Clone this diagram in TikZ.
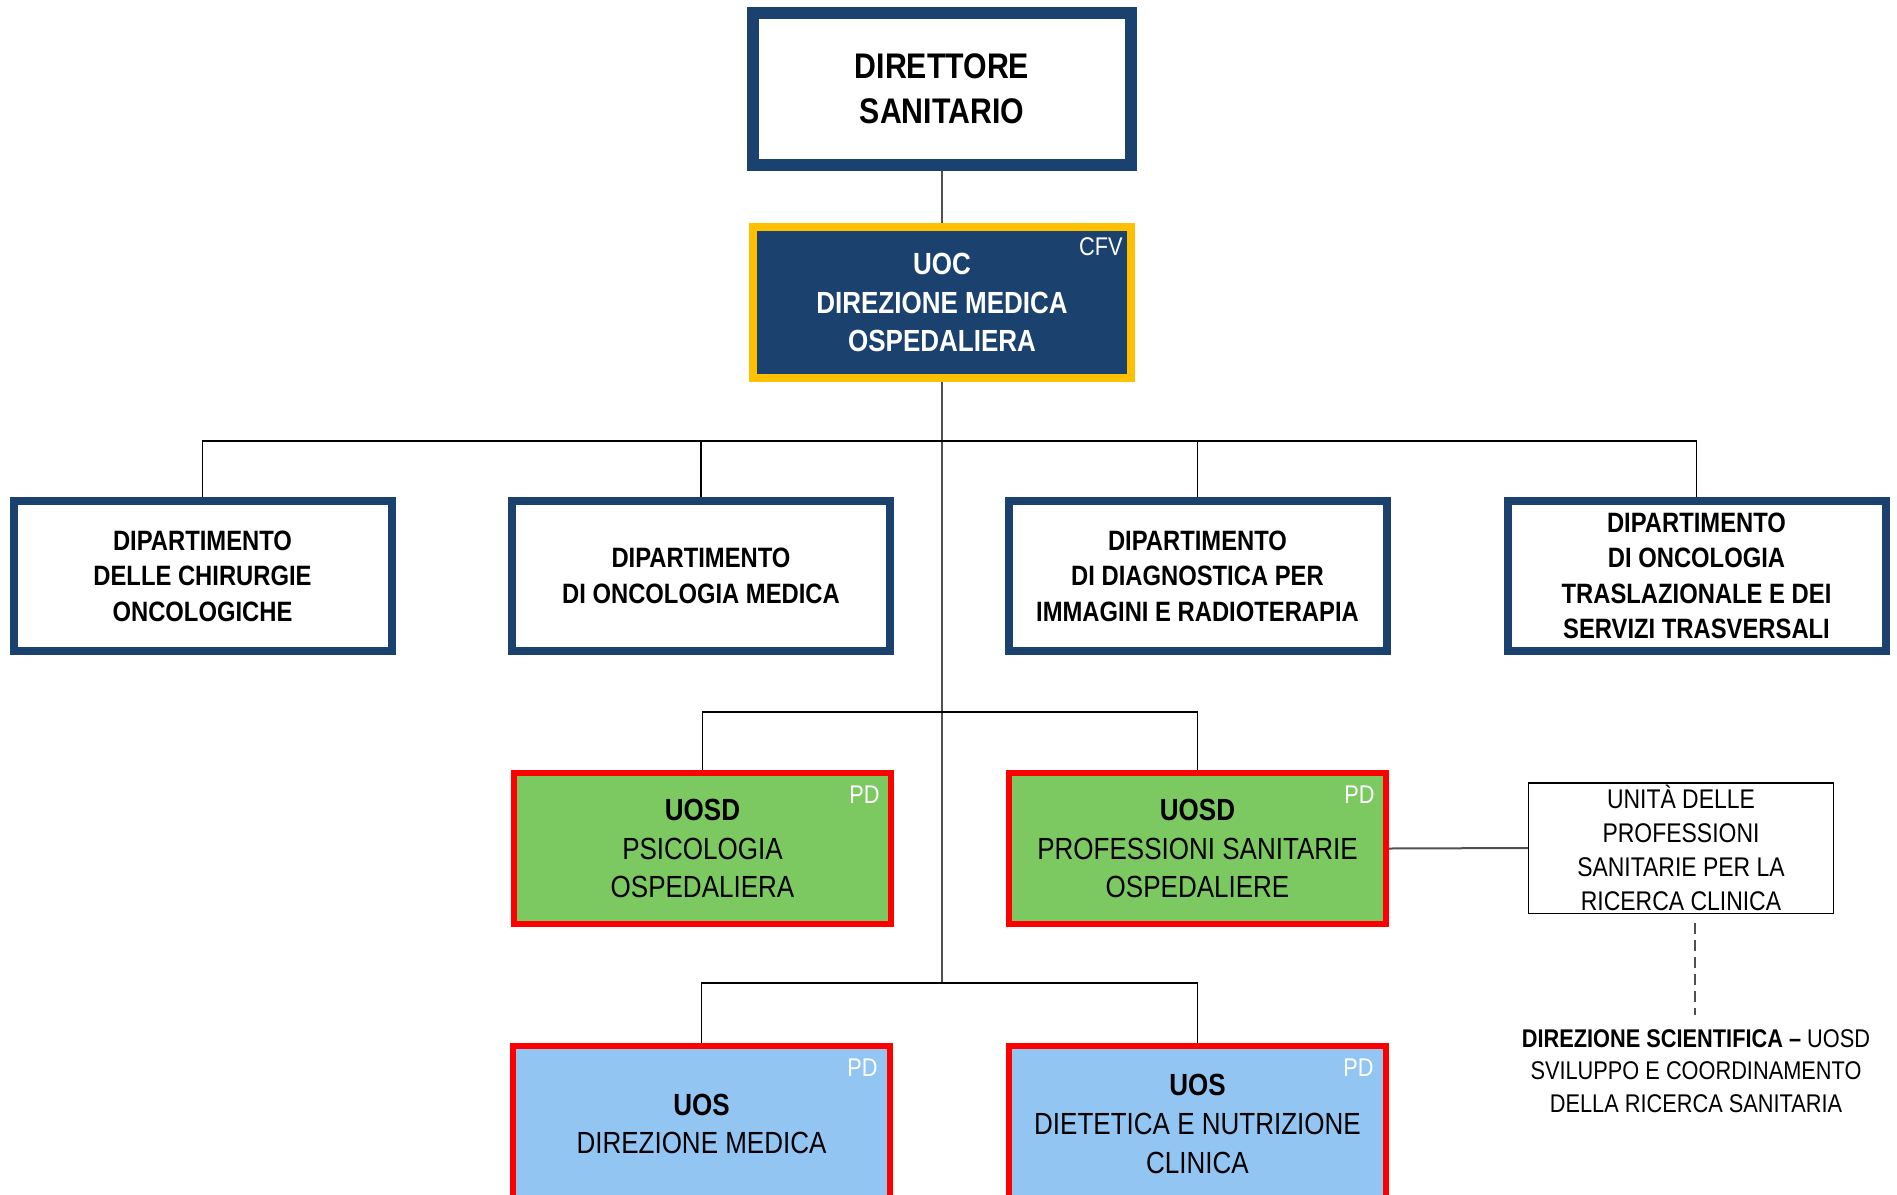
\documentclass[tikz,border=0pt]{standalone}
\usepackage{fontspec}
\setmainfont{Liberation Sans}[FakeStretch=0.85]
\definecolor{navy}{RGB}{27,65,110}
\definecolor{gold}{RGB}{255,192,0}
\definecolor{grn}{RGB}{124,201,98}
\definecolor{lblue}{RGB}{147,197,243}
\definecolor{bred}{RGB}{255,0,0}
\definecolor{lgray}{RGB}{80,80,80}
\tikzset{
  dirbox/.style={draw=navy, line width=6pt, fill=white, minimum width=189pt, minimum height=76pt, inner sep=0pt, align=center, font=\fontsize{17.8pt}{22.5pt}\selectfont\bfseries},
  uocbox/.style={draw=gold, line width=4pt, fill=navy, text=white, minimum width=189pt, minimum height=75.5pt, inner sep=0pt, align=center, font=\fontsize{15.3pt}{19.3pt}\selectfont\bfseries},
  deptbox/.style={draw=navy, line width=4pt, fill=white, minimum width=189pt, minimum height=75pt, inner sep=0pt, align=center, font=\fontsize{14pt}{17.7pt}\selectfont\bfseries},
  greenbox/.style={draw=bred, line width=3pt, fill=grn, minimum width=188.5pt, minimum height=75.5pt, inner sep=0pt, align=center, font=\fontsize{15.3pt}{19.3pt}\selectfont},
  bluebox/.style={draw=bred, line width=3pt, fill=lblue, minimum width=188.5pt, minimum height=78pt, inner sep=0pt, align=center, font=\fontsize{15.3pt}{19.3pt}\selectfont},
  unitabox/.style={draw=black, line width=0.75pt, fill=white, minimum width=152.5pt, minimum height=65.25pt, inner sep=0pt, align=center, font=\fontsize{13.5pt}{17pt}\selectfont},
  scitxt/.style={inner sep=0pt, align=center, font=\fontsize{12.8pt}{16.25pt}\selectfont},
  tag/.style={inner sep=0pt, text=white, font=\fontsize{12.8pt}{14pt}\selectfont},
  conn/.style={draw=black, line width=0.7pt},
  trunk/.style={draw=lgray, line width=1pt},
  dashconn/.style={draw=lgray, line width=0.6pt, dash pattern=on 5.5pt off 3pt}
}
\begin{document}
\begin{tikzpicture}[x=0.5pt,y=-0.5pt]
\useasboundingbox (0,0) rectangle (1897,1195);
\clip (0,0) rectangle (1897,1195);
\fill[white] (0,0) rectangle (1897,1195);

\coordinate (bus1) at (942,441);
\coordinate (bus2) at (942,712);
\coordinate (bus3) at (942,983);
\coordinate (ds1) at (1695,923);
\coordinate (ds2) at (1695,1015);

% boxes
\node[dirbox] (dir) at (942,89) {DIRETTORE\\SANITARIO};
\node[uocbox] (uoc) at (942,302.5) {UOC\\DIREZIONE MEDICA\\OSPEDALIERA};
\node[tag, anchor=base east] (cfv) at (1123,255) {CFV};

\node[deptbox] (d1) at (202.5,576) {DIPARTIMENTO\\DELLE CHIRURGIE\\ONCOLOGICHE};
\node[deptbox] (d2) at (701,576) {DIPARTIMENTO\\DI ONCOLOGIA MEDICA};
\node[deptbox] (d3) at (1197.5,576) {DIPARTIMENTO\\DI DIAGNOSTICA PER\\IMMAGINI E RADIOTERAPIA};
\node[deptbox] (d4) at (1696.5,576) {DIPARTIMENTO\\DI ONCOLOGIA\\TRASLAZIONALE E DEI\\SERVIZI TRASVERSALI};

\node[greenbox] (g1) at (702.5,848.5) {\textbf{UOSD}\\PSICOLOGIA\\OSPEDALIERA};
\node[greenbox] (g2) at (1197.5,848.5) {\textbf{UOSD}\\PROFESSIONI SANITARIE\\OSPEDALIERE};
\node[tag, anchor=base east] (pd1) at (880,803) {PD};
\node[tag, anchor=base east] (pd2) at (1375,803) {PD};

\node[bluebox] (b1) at (701.5,1124) {\textbf{UOS}\\DIREZIONE MEDICA};
\node[bluebox] (b2) at (1197.5,1124) {\textbf{UOS}\\DIETETICA E NUTRIZIONE\\CLINICA};
\node[tag, anchor=base east] (pd3) at (878,1076) {PD};
\node[tag, anchor=base east] (pd4) at (1374,1076) {PD};

\node[unitabox] (un) at (1681,848) {UNITÀ DELLE\\PROFESSIONI\\SANITARIE PER LA\\RICERCA CLINICA};
\node[scitxt] (sci) at (1696,1071) {\textbf{DIREZIONE SCIENTIFICA –} UOSD\\SVILUPPO E COORDINAMENTO\\DELLA RICERCA SANITARIA};

% connectors
\draw[trunk] (dir.south) -- (uoc.north);
\draw[trunk] (uoc.south) -- (bus3);
\draw[conn] (d1.north) |- (bus1) -| (d4.north);
\draw[conn] (d2.north) -- (d2.north |- bus1);
\draw[conn] (d3.north) -- (d3.north |- bus1);
\draw[conn] (g1.north) |- (bus2) -| (g2.north);
\draw[conn] (b1.north) |- (bus3) -| (b2.north);
\draw[trunk] (g2.east) -- (un.west);
\draw[dashconn] (ds1) -- (ds2);
\end{tikzpicture}
\end{document}
